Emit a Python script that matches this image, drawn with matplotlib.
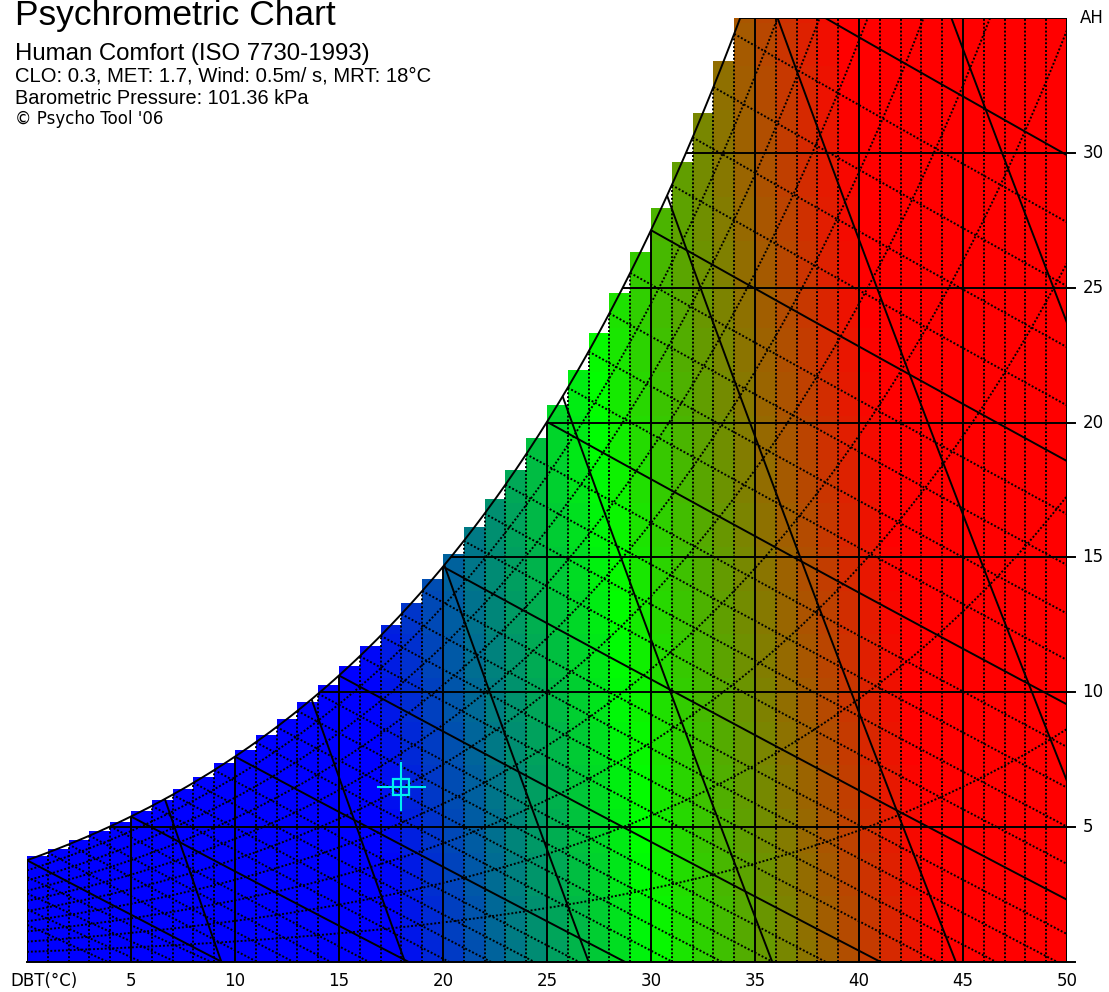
import numpy as np
import matplotlib.pyplot as plt
from matplotlib.patches import Polygon

# conditions printed in the chart header
clo, met, wind, mrt = 0.3, 1.7, 0.5, 18.0
pressure = 101.36  # kPa

t_max, w_max = 50, 35
dbt_ticks = [5, 10, 15, 20, 25, 30, 35, 40, 45, 50]
ah_ticks = [5, 10, 15, 20, 25, 30]
rh_levels = [10, 20, 30, 40, 50, 60, 70, 80, 90]
wb_solid = [0, 5, 10, 15, 20, 25, 30, 35]
wb_dotted = [-4, -3, -2, -1, 1, 2, 3, 4, 6, 7, 8, 9, 11, 12, 13, 14, 16, 17, 18, 19,
             21, 22, 23, 24, 26, 27, 28, 29, 31, 32, 33, 34]
vol_levels = [0.800, 0.825, 0.850, 0.875, 0.900, 0.925, 0.950]
state_point = (18.0, 6.5)
cell_dt, cell_dw = 1.0, 1.62
pmv_cold, pmv_warm = -2.6, 2.8   # PMV at full blue / full red


def pws(t):
    return 0.61094 * np.exp(17.625 * t / (t + 243.04))

def w_sat(t):
    p = pws(t)
    return 622.0 * p / (pressure - p)

def w_rh(t, rh):
    # chart draws percentage saturation
    return rh / 100.0 * w_sat(t)

def w_wb(t, twb):
    ws = w_sat(twb) / 1000.0
    if twb >= 0:
        w = ((2501 - 2.326 * twb) * ws - 1.006 * (t - twb)) / (2501 + 1.86 * t - 4.186 * twb)
    else:
        w = ((2830 - 0.24 * twb) * ws - 1.006 * (t - twb)) / (2830 + 1.86 * t - 2.1 * twb)
    return w * 1000.0

def w_vol(t, v):
    return (v * pressure / (0.287042 * (t + 273.15)) - 1) / 1.607858 * 1000.0

def pmv(ta, w):
    pa = w / 1000.0 * pressure / (0.622 + w / 1000.0) * 1000.0  # Pa
    icl = 0.155 * clo
    m = met * 58.15
    mw = m
    fcl = 1 + 1.29 * icl if icl <= 0.078 else 1.05 + 0.645 * icl
    hcf = 12.1 * np.sqrt(wind)
    taa, tra = ta + 273.0, mrt + 273.0
    tcla = taa + (35.5 - ta) / (3.5 * icl + 0.1)
    p1 = icl * fcl
    p2 = p1 * 3.96
    p3 = p1 * 100
    p4 = p1 * taa
    p5 = 308.7 - 0.028 * mw + p2 * (tra / 100) ** 4
    xn, xf = tcla / 100, tcla / 50
    n = 0
    hc = hcf
    while abs(xn - xf) > 0.00015 and n < 150:
        xf = (xf + xn) / 2
        hcn = 2.38 * abs(100 * xf - taa) ** 0.25
        hc = max(hcf, hcn)
        xn = (p5 + p4 * hc - p2 * xf ** 4) / (100 + p3 * hc)
        n += 1
    tcl = 100 * xn - 273
    hl1 = 3.05e-3 * (5733 - 6.99 * mw - pa)
    hl2 = 0.42 * (mw - 58.15) if mw > 58.15 else 0
    hl3 = 1.7e-5 * m * (5867 - pa)
    hl4 = 0.0014 * m * (34 - ta)
    hl5 = 3.96 * fcl * (xn ** 4 - (tra / 100) ** 4)
    hl6 = fcl * hc * (tcl - ta)
    ts = 0.303 * np.exp(-0.036 * m) + 0.028
    return ts * (mw - hl1 - hl2 - hl3 - hl4 - hl5 - hl6)

def pmv_colour(p):
    if p < 0:
        s = min(p / pmv_cold, 1.0)
        return (0, 1 - s, s)
    s = min(p / pmv_warm, 1.0)
    return (s, 1 - s, 0)


fig = plt.figure(figsize=(11.09, 9.92), dpi=100)
ax = fig.add_axes([27 / 1109, 30 / 992, 1040 / 1109, 944 / 992])
ax.set_xlim(0, t_max)
ax.set_ylim(0, w_max)
ax.axis('off')

# coloured comfort cells, stepped along the saturation line
lefts, bottoms, heights, colours = [], [], [], []
for i in range(t_max):
    tc = i + cell_dt / 2
    top = min(w_sat(tc), w_max)
    k = 0
    while (k - 0.5) * cell_dw < top:
        lo = max((k - 0.5) * cell_dw, 0)
        hi = min((k + 0.5) * cell_dw, top)
        lefts.append(i)
        bottoms.append(lo)
        heights.append(hi - lo)
        colours.append(pmv_colour(pmv(tc, k * cell_dw)))
        k += 1
ax.bar(lefts, heights, bottom=bottoms, width=cell_dt, align='edge', color=colours,
       linewidth=0, antialiased=False, zorder=1)

# chart region for clipping
t_grid = np.linspace(0, t_max, 2001)
t_top = np.interp(w_max, w_sat(t_grid), t_grid)
t_curve = np.linspace(0, t_top, 400)
verts = list(zip(t_curve, w_sat(t_curve))) + [(t_max, w_max), (t_max, 0), (0, 0)]
region = Polygon(verts, closed=True, facecolor='none', edgecolor='none')
ax.add_patch(region)

dot = dict(color='black', lw=1.4, linestyle=(0, (1, 1)), zorder=2)
solid = dict(color='black', lw=1.4, zorder=3)

def draw(x, y, style):
    ln, = ax.plot(x, y, **style)
    ln.set_clip_path(region)

# dry bulb lines
for t in range(1, t_max):
    draw([t, t], [0, w_max], solid if t % 5 == 0 else dot)
# humidity ratio lines
for w in ah_ticks:
    draw([0, t_max], [w, w], solid)
    ax.plot([t_max, t_max + 0.4], [w, w], color='black', lw=1.4, clip_on=False)
# relative humidity curves
for rh in rh_levels:
    draw(t_grid, w_rh(t_grid, rh), dot)
# wet bulb lines
for twb in wb_dotted:
    tt = np.linspace(twb, t_max, 200)
    draw(tt, [w_wb(t, twb) for t in tt], dot)
for twb in wb_solid:
    tt = np.linspace(twb, t_max, 200)
    draw(tt, [w_wb(t, twb) for t in tt], solid)
# specific volume lines
for v in vol_levels:
    draw(t_grid, w_vol(t_grid, v), solid)

# outline
ax.plot(t_curve, w_sat(t_curve), color='black', lw=1.4, zorder=4)
ax.plot([t_top, t_max, t_max], [w_max, w_max, 0], color='black', lw=1.4, zorder=4)
ax.plot([0, t_max + 0.4], [0, 0], color='black', lw=1.4, zorder=4, clip_on=False)
ax.plot([0, 0], [0, w_sat(0)], color='black', lw=1.4, zorder=4)

# state point marker
tp, wp = state_point
cyan = '#00f0f0'
ax.plot([tp - 1.13, tp + 1.13], [wp, wp], color=cyan, lw=1.5, zorder=5)
ax.plot([tp, tp], [wp - 0.87, wp + 0.87], color=cyan, lw=1.5, zorder=5)
ax.plot([tp], [wp], marker='s', ms=11.5, mfc='none', mec=cyan, mew=1.6, zorder=5)

# axis labels
tick_font = dict(family='DejaVu Sans', fontsize=12)
for t in dbt_ticks:
    ax.text(t, -0.7, str(t), ha='center', va='center', clip_on=False, **tick_font)
ax.text(-0.82, -0.7, 'DBT(°C)', ha='left', va='center', clip_on=False, **tick_font)
for w in ah_ticks:
    ax.text(t_max + 0.75, w, str(w), ha='left', va='center', clip_on=False, **tick_font)
ax.text(t_max + 0.6, w_max, 'AH', ha='left', va='center', clip_on=False, **tick_font)

# header text
W, H = 1109, 992
head = 'Liberation Sans'
fig.text(15 / W, 1 - 25 / H, 'Psychrometric Chart', family=head, fontsize=25.5, va='baseline')
fig.text(15 / W, 1 - 60 / H, 'Human Comfort (ISO 7730-1993)', family=head, fontsize=17.3, va='baseline')
fig.text(15 / W, 1 - 82 / H, 'CLO: 0.3, MET: 1.7, Wind: 0.5m/ s, MRT: 18°C', family=head, fontsize=14.6, va='baseline')
fig.text(15 / W, 1 - 104 / H, 'Barometric Pressure: 101.36 kPa', family=head, fontsize=14.3, va='baseline')
fig.text(15 / W, 1 - 124 / H, '© Psycho Tool \'06', family='DejaVu Sans', fontsize=12, va='baseline')

fig.savefig('out.png', dpi=100)
